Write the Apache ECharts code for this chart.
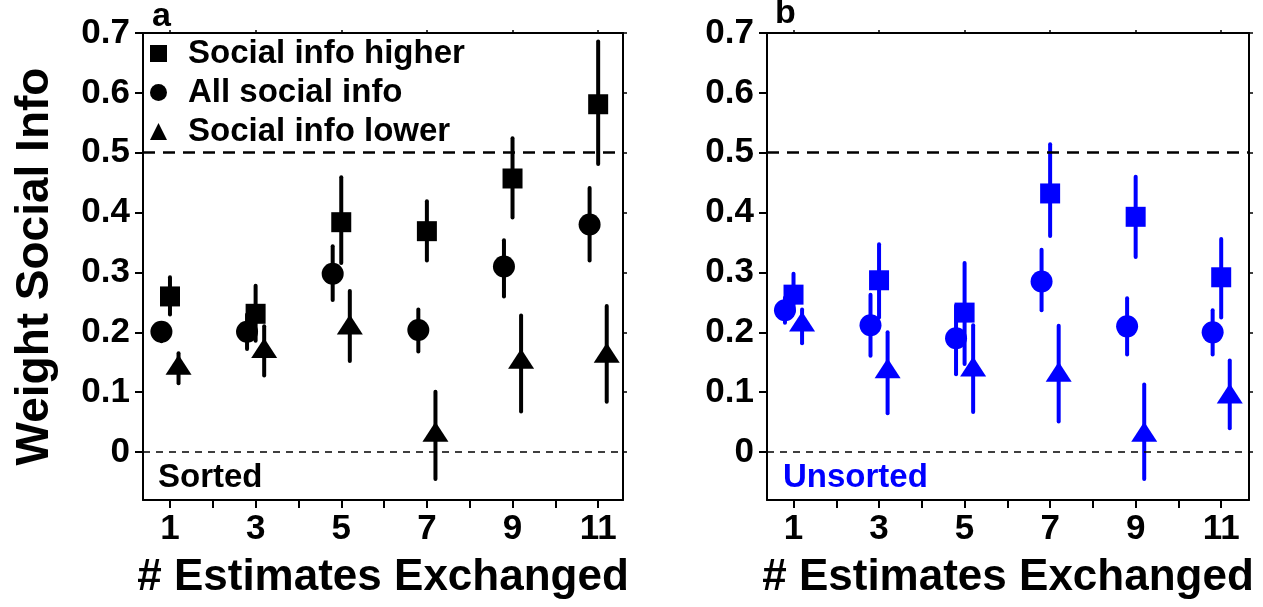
<!DOCTYPE html>
<html>
<head>
<meta charset="utf-8">
<script src="https://cdn.jsdelivr.net/npm/echarts@6/dist/echarts.min.js"></script>
<style>
  html, body { margin: 0; padding: 0; background: #fff; }
  #chart { width: 1263px; height: 607px; }
</style>
</head>
<body>
<div id="chart"></div>
<script>
// exchanges (x) and tick labels
var exchanges = [1, 3, 5, 7, 9, 11];
var xTicks = [1, 2, 3, 4, 5, 6, 7, 8, 9, 10, 11];
var xLabels = [1, 3, 5, 7, 9, 11];
var yTicks = [0, 0.1, 0.2, 0.3, 0.4, 0.5, 0.6, 0.7];
var refLines = [0.5, 0];

// panel a: sorted
var higherA = [0.260, 0.231, 0.384, 0.369, 0.457, 0.581];
var higherALo = [0.230, 0.186, 0.316, 0.320, 0.392, 0.481];
var higherAHi = [0.292, 0.278, 0.459, 0.419, 0.524, 0.686];
var allA = [0.201, 0.201, 0.298, 0.204, 0.310, 0.380];
var allALo = [0.185, 0.172, 0.254, 0.168, 0.260, 0.320];
var allAHi = [0.215, 0.230, 0.344, 0.238, 0.354, 0.441];
var lowerA = [0.146, 0.174, 0.213, 0.034, 0.156, 0.166];
var lowerALo = [0.115, 0.128, 0.152, -0.045, 0.068, 0.084];
var lowerAHi = [0.165, 0.210, 0.269, 0.101, 0.228, 0.244];

// panel b: unsorted
var higherB = [0.263, 0.287, 0.233, 0.432, 0.393, 0.292];
var higherBLo = [0.235, 0.225, 0.147, 0.361, 0.326, 0.225];
var higherBHi = [0.298, 0.347, 0.316, 0.514, 0.460, 0.356];
var allB = [0.237, 0.212, 0.190, 0.285, 0.210, 0.200];
var allBLo = [0.216, 0.161, 0.130, 0.237, 0.163, 0.163];
var allBHi = [0.258, 0.263, 0.245, 0.338, 0.257, 0.237];
var lowerB = [0.218, 0.140, 0.143, 0.134, 0.034, 0.098];
var lowerBLo = [0.182, 0.065, 0.067, 0.051, -0.045, 0.040];
var lowerBHi = [0.238, 0.200, 0.212, 0.211, 0.113, 0.153];

var FONT = "'Liberation Sans', Arial, Helvetica, sans-serif";
var BLUE = "#0000ff";
// horizontal dodge of each group around the exchange count
var dodge = { all: -0.2, higher: 0, lower: 0.2 };

function points(vals, off) {
  return exchanges.map(function (x, i) { return [x + off, vals[i]]; });
}
function bars(lo, hi, off) {
  return exchanges.map(function (x, i) { return [x + off, lo[i], hi[i]]; });
}

function errSeries(name, idx, lo, hi, off, color, withRef) {
  var s = {
    name: name,
    type: "custom",
    xAxisIndex: idx * 2,
    yAxisIndex: idx * 2,
    z: 2,
    silent: true,
    itemStyle: { color: color },
    data: bars(lo, hi, off),
    renderItem: function (params, api) {
      var a = api.coord([api.value(0), api.value(1)]);
      var b = api.coord([api.value(0), api.value(2)]);
      return {
        type: "line",
        shape: { x1: a[0], y1: a[1], x2: b[0], y2: b[1] },
        style: { stroke: color, lineWidth: 4, lineCap: "round" },
      };
    },
  };
  if (withRef) {
    s.markLine = {
      silent: true,
      symbol: "none",
      label: { show: false },
      animation: false,
      data: [
        { yAxis: refLines[0], lineStyle: { color: "#000", width: 2.5, type: [12, 8] } },
        { yAxis: refLines[1], lineStyle: { color: "#000", width: 1.5, type: [7, 6] } },
      ],
    };
  }
  return s;
}

function markSeries(name, idx, vals, off, color, symbol, size) {
  return {
    name: name,
    type: "scatter",
    xAxisIndex: idx * 2,
    yAxisIndex: idx * 2,
    z: 3,
    symbol: symbol,
    symbolSize: size,
    itemStyle: { color: color, opacity: 1 },
    data: points(vals, off),
  };
}

var frameLine = { show: true, onZero: false, lineStyle: { color: "#000", width: 2 } };

function xAxes(idx, min, max) {
  return [
    {
      type: "value",
      gridIndex: idx,
      position: "bottom",
      min: min,
      max: max,
      name: "# Estimates Exchanged",
      nameLocation: "middle",
      nameGap: 56,
      nameTextStyle: { color: "#000", fontFamily: FONT, fontWeight: "bold", fontSize: 44 },
      axisLine: frameLine,
      axisTick: { show: true, customValues: xTicks, length: 8, lineStyle: { color: "#000", width: 2 } },
      axisLabel: {
        customValues: xLabels,
        margin: 12,
        color: "#000",
        fontFamily: FONT,
        fontWeight: "bold",
        fontSize: 35,
      },
      splitLine: { show: false },
    },
    {
      type: "value",
      gridIndex: idx,
      position: "top",
      min: min,
      max: max,
      axisLine: frameLine,
      axisTick: { show: true, customValues: xLabels, length: 3, lineStyle: { color: "#000", width: 1.5 } },
      axisLabel: { show: false },
      splitLine: { show: false },
    },
  ];
}

function yAxes(idx, withName) {
  var left = {
    type: "value",
    gridIndex: idx,
    position: "left",
    min: -0.08,
    max: 0.7,
    axisLine: frameLine,
    axisTick: { show: true, customValues: yTicks, length: 8, lineStyle: { color: "#000", width: 2 } },
    axisLabel: {
      customValues: yTicks,
      margin: 13,
      color: "#000",
      fontFamily: FONT,
      fontWeight: "bold",
      fontSize: 35,
    },
    splitLine: { show: false },
  };
  if (withName) {
    left.name = "Weight Social Info";
    left.nameLocation = "middle";
    left.nameGap = 85;
    left.nameTextStyle = { color: "#000", fontFamily: FONT, fontWeight: "bold", fontSize: 46 };
  }
  return [
    left,
    {
      type: "value",
      gridIndex: idx,
      position: "right",
      min: -0.08,
      max: 0.7,
      axisLine: frameLine,
      axisTick: { show: true, customValues: yTicks, length: 4, lineStyle: { color: "#000", width: 1.5 } },
      axisLabel: { show: false },
      splitLine: { show: false },
    },
  ];
}

var NAMES = ["Social info higher", "All social info", "Social info lower"];

var chart = echarts.init(document.getElementById("chart"), null, { renderer: "canvas" });
var option = {
  animation: false,
  backgroundColor: "#fff",
  grid: [
    { left: 143, top: 33, width: 480, height: 467 },
    { left: 767, top: 33, width: 482, height: 467 },
  ],
  xAxis: xAxes(0, 0.37, 11.58).concat(xAxes(1, 0.38, 11.65)),
  yAxis: yAxes(0, true).concat(yAxes(1, false)),
  legend: {
    orient: "vertical",
    left: 150,
    top: 37,
    padding: 0,
    itemGap: 6,
    itemWidth: 17,
    itemHeight: 17,
    selectedMode: false,
    textStyle: {
      color: "#000",
      fontFamily: FONT,
      fontWeight: "bold",
      fontSize: 33,
      padding: [0, 0, 0, 16],
    },
    data: [
      { name: NAMES[0], icon: "rect", itemStyle: { color: "#000" } },
      { name: NAMES[1], icon: "circle", itemStyle: { color: "#000" } },
      { name: NAMES[2], icon: "triangle", itemStyle: { color: "#000" } },
    ],
  },
  graphic: [
    { type: "text", left: 152, top: 0, style: { text: "a", fill: "#000", font: "bold 34px " + FONT } },
    { type: "text", left: 775, top: -3, style: { text: "b", fill: "#000", font: "bold 34px " + FONT } },
    { type: "text", left: 158, top: 461, style: { text: "Sorted", fill: "#000", font: "bold 33px " + FONT } },
    { type: "text", left: 783, top: 461, style: { text: "Unsorted", fill: BLUE, font: "bold 33px " + FONT } },
  ],
  series: [
    errSeries(NAMES[1], 0, allALo, allAHi, dodge.all, "#000", true),
    errSeries(NAMES[0], 0, higherALo, higherAHi, dodge.higher, "#000", false),
    errSeries(NAMES[2], 0, lowerALo, lowerAHi, dodge.lower, "#000", false),
    markSeries(NAMES[1], 0, allA, dodge.all, "#000", "circle", 22),
    markSeries(NAMES[0], 0, higherA, dodge.higher, "#000", "rect", 20),
    markSeries(NAMES[2], 0, lowerA, dodge.lower, "#000", "triangle", [26, 20]),

    errSeries(NAMES[1], 1, allBLo, allBHi, dodge.all, BLUE, true),
    errSeries(NAMES[0], 1, higherBLo, higherBHi, dodge.higher, BLUE, false),
    errSeries(NAMES[2], 1, lowerBLo, lowerBHi, dodge.lower, BLUE, false),
    markSeries(NAMES[1], 1, allB, dodge.all, BLUE, "circle", 22),
    markSeries(NAMES[0], 1, higherB, dodge.higher, BLUE, "rect", 20),
    markSeries(NAMES[2], 1, lowerB, dodge.lower, BLUE, "triangle", [26, 20]),
  ],
};
chart.setOption(option);
</script>
</body>
</html>
